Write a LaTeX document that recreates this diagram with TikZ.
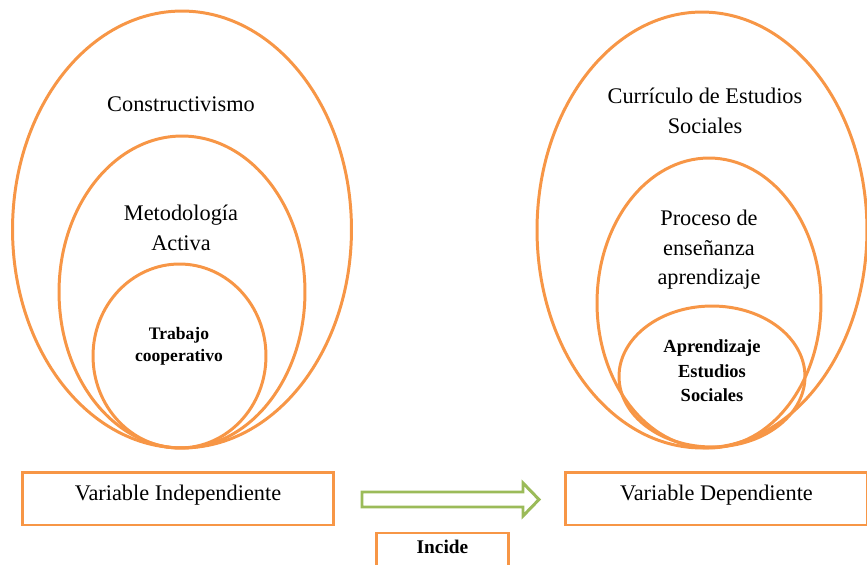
\documentclass[tikz,border=0pt]{standalone}
\usepackage{fontspec}
\setmainfont{Liberation Serif}
\usetikzlibrary{shapes.geometric}

\definecolor{ringorange}{RGB}{247,150,70}
\definecolor{arrowgreen}{RGB}{155,187,89}

\begin{document}
\begin{tikzpicture}[x=0.02cm, y=-0.02cm,
	ring/.style={shape=ellipse, draw=ringorange, line width=1.7pt, inner sep=0pt},
	varbox/.style={shape=rectangle, draw=ringorange, line width=1.7pt, inner sep=0pt,
		font=\fontsize{12.7}{15}\selectfont, text height=0.45em, text depth=0.2em},
	lbl/.style={align=center, inner sep=0pt, font=\fontsize{12.7}{16.8}\selectfont},
	blbl/.style={align=center, inner sep=0pt, font=\fontsize{10}{12.5}\selectfont\bfseries}]
	\useasboundingbox (0, 0) rectangle (867, 565);

	\node[ring, minimum width=6.78cm, minimum height=8.74cm] (constr) at (182, 229.5) {};
	\node[ring, minimum width=4.92cm, minimum height=6.24cm] (metod) at (182, 292) {};
	\node[ring, minimum width=3.46cm, minimum height=3.68cm] (trab) at (179.5, 356) {};

	\node[ring, minimum width=6.6cm, minimum height=8.72cm] (curr) at (702, 230) {};
	\node[ring, minimum width=4.48cm, minimum height=5.8cm] (proc) at (709, 303) {};
	\node[ring, minimum width=3.72cm, minimum height=2.82cm] (aprend) at (712, 376.5) {};

	\node[lbl] (constrtxt) at (181, 104) {Constructivismo};
	\node[lbl] (metodtxt) at (181, 228) {Metodología\\Activa};
	\node[blbl] (trabtxt) at (179, 346) {Trabajo\\cooperativo};

	\node[lbl] (currtxt) at (705, 111) {Currículo de Estudios\\Sociales};
	\node[lbl] (proctxt) at (709, 250) {Proceso de\\enseñanza\\aprendizaje};
	\node[blbl, font=\fontsize{10.5}{14}\selectfont\bfseries] (aprendtxt) at (712, 371) {Aprendizaje\\Estudios\\Sociales};

	\node[varbox, minimum width=6.24cm, minimum height=1.06cm] (indep) at (178, 498.5) {Variable Independiente};
	\node[varbox, minimum width=6.06cm, minimum height=1.06cm] (dep) at (716.5, 498.5) {Variable Dependiente};
	\node[varbox, minimum width=2.66cm, minimum height=0.66cm, font=\fontsize{11}{13}\selectfont\bfseries,
		text height=0.55em, text depth=0.1em] (incide) at (442.5, 549.5) {Incide};

	\draw[arrowgreen, line width=1.7pt] (362, 492) -- (523, 492) -- (523, 483) -- (539, 499.5)
		-- (523, 516) -- (523, 507) -- (362, 507) -- cycle;

\end{tikzpicture}
\end{document}
